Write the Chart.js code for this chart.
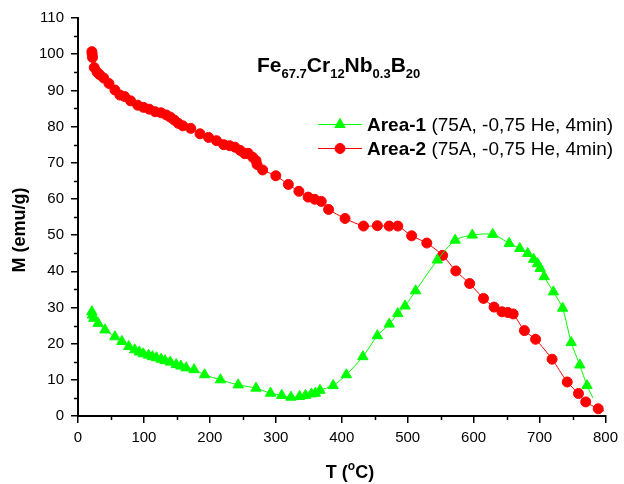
<!DOCTYPE html>
<html>
<head>
<meta charset="utf-8">
<script src="https://cdn.jsdelivr.net/npm/chart.js@4.4.1/dist/chart.umd.min.js"></script>
<style>
  html, body { margin: 0; padding: 0; background: #fff; }
  #c { display: block; }
</style>
</head>
<body>
<canvas id="c" width="624" height="484"></canvas>
<script>
// Area-1: temperature (°C) and magnetisation (emu/g)
const T1 = [21, 22, 24, 30.5, 41, 56, 66.5, 77, 86, 93, 99, 107, 113, 119, 126, 132, 140, 149, 156, 164,
            176, 192, 216, 243, 270, 292, 309, 323, 336, 345, 354, 360, 367, 387, 407, 432, 454, 472, 485, 496,
            512, 545, 572, 598, 629, 654, 670, 682, 691, 697, 701, 707, 721, 735, 748, 761, 772, 781];
const M1 = [28.8, 27.9, 27.0, 25.6, 23.8, 21.9, 20.6, 19.2, 18.3, 17.7, 17.2, 16.8, 16.4, 16.1, 15.7, 15.3, 14.9, 14.2, 13.8, 13.3,
            12.8, 11.4, 10.0, 8.6, 7.7, 6.3, 5.7, 5.2, 5.4, 5.7, 6.1, 6.3, 7.1, 8.4, 11.4, 16.4, 22.2, 25.4, 28.3, 30.4,
            34.6, 43.1, 48.6, 50.0, 50.2, 47.7, 46.3, 44.9, 43.3, 42.1, 40.8, 38.5, 34.3, 29.8, 20.3, 14.1, 8.4, 5.0];

// Area-2: temperature (°C) and magnetisation (emu/g)
const T2 = [21, 21.5, 22, 24.6, 29, 33, 39, 47, 56, 63.5, 70.7, 79.7, 90.5, 99.5, 108, 117, 126, 134, 140, 146,
            152, 159, 171, 185, 198, 210, 221, 230, 238, 246, 253, 258, 265, 270, 271.5, 280, 300, 319, 335, 349,
            359, 369, 380, 405, 433, 454, 472, 485, 506, 529, 553, 573, 594, 615, 631, 643, 652, 660, 677, 694,
            719, 742, 759, 770, 789, 798];
const M2 = [100.7, 100.0, 99.1, 96.3, 95.0, 94.3, 93.4, 91.9, 90.1, 88.7, 88.3, 87.1, 85.9, 85.3, 84.8, 84.1, 83.8, 83.2, 82.6, 81.8,
            80.9, 80.2, 79.5, 78.0, 77.0, 76.1, 75.0, 74.7, 74.3, 73.4, 72.5, 72.6, 71.5, 70.6, 69.5, 68.0, 66.4, 64.0, 62.1, 60.5,
            59.9, 59.3, 57.1, 54.6, 52.5, 52.6, 52.5, 52.5, 49.8, 47.8, 44.4, 40.1, 36.6, 32.5, 30.1, 28.8, 28.6, 28.2, 23.6, 21.2,
            15.7, 9.4, 6.2, 3.9, 2.0, 1.4];

const xTicks = [0, 100, 200, 300, 400, 500, 600, 700, 800];
const yTicks = [0, 10, 20, 30, 40, 50, 60, 70, 80, 90, 100, 110];
const xMinor = [50, 150, 250, 350, 450, 550, 650, 750];
const yMinor = [5, 15, 25, 35, 45, 55, 65, 75, 85, 95, 105];

const seriesNames = ['Area-1', 'Area-2'];
const seriesNotes = [' (75A, -0,75 He, 4min)', ' (75A, -0,75 He, 4min)'];
const titleParts = [['Fe', false], ['67.7', true], ['Cr', false], ['12', true], ['Nb', false], ['0.3', true], ['B', false], ['20', true]];

const FONT = '"Liberation Sans", Arial, Helvetica, sans-serif';
const GREEN = '#00ff00';
const RED = '#ff0000';

const pts = (xs, ys) => xs.map((x, i) => ({ x: x, y: ys[i] }));
// the final sample of each run carries the curve but no marker
const markerRadius = r => c => (c.dataIndex === c.dataset.data.length - 1 ? 0 : r);

const decor = {
  id: 'decor',
  afterDraw(chart) {
    const ctx = chart.ctx;
    const xs = chart.scales.x, ys = chart.scales.y;
    const area = chart.chartArea;
    ctx.save();

    // minor ticks
    ctx.strokeStyle = '#000';
    ctx.lineWidth = 1.5;
    ctx.beginPath();
    xMinor.forEach(v => {
      const px = Math.round(xs.getPixelForValue(v)) + 0.5;
      ctx.moveTo(px, area.bottom);
      ctx.lineTo(px, area.bottom + 4);
    });
    yMinor.forEach(v => {
      const py = Math.round(ys.getPixelForValue(v)) + 0.5;
      ctx.moveTo(area.left, py);
      ctx.lineTo(area.left - 4, py);
    });
    ctx.stroke();

    // compound formula
    ctx.fillStyle = '#000';
    ctx.textBaseline = 'alphabetic';
    ctx.textAlign = 'left';
    let tx = 257;
    const tBase = 72;
    titleParts.forEach(([t, sub]) => {
      ctx.font = sub ? 'bold 13px ' + FONT : 'bold 21px ' + FONT;
      ctx.fillText(t, tx, sub ? tBase + 6 : tBase);
      tx += ctx.measureText(t).width;
    });

    // legend
    const rows = [124.5, 148.5];
    const colors = [GREEN, RED];
    const styles = ['triangle', 'circle'];
    rows.forEach((ry, i) => {
      ctx.strokeStyle = colors[i];
      ctx.lineWidth = 1;
      ctx.beginPath();
      ctx.moveTo(318, ry);
      ctx.lineTo(362, ry);
      ctx.stroke();
      ctx.fillStyle = colors[i];
      ctx.strokeStyle = colors[i];
      Chart.helpers.drawPoint(ctx, { pointStyle: styles[i], radius: i === 0 ? 6 : 5, rotation: 0, borderWidth: 1 }, 340, ry);
      ctx.fillStyle = '#000';
      ctx.textBaseline = 'middle';
      ctx.font = 'bold 19px ' + FONT;
      ctx.fillText(seriesNames[i], 367, ry + 1);
      const w = ctx.measureText(seriesNames[i]).width;
      ctx.font = '19px ' + FONT;
      ctx.fillText(seriesNotes[i], 367 + w, ry + 1);
    });

    // axis titles
    ctx.fillStyle = '#000';
    ctx.textBaseline = 'middle';
    ctx.textAlign = 'center';
    ctx.save();
    ctx.translate(20, 230);
    ctx.rotate(-Math.PI / 2);
    ctx.font = 'bold 18px ' + FONT;
    ctx.fillText('M (emu/g)', 0, 0);
    ctx.restore();

    ctx.textAlign = 'left';
    ctx.textBaseline = 'alphabetic';
    const base = 478;
    const a = 'T (', c = 'C)';
    ctx.font = 'bold 18px ' + FONT;
    const wa = ctx.measureText(a).width, wc = ctx.measureText(c).width;
    ctx.font = 'bold 12px ' + FONT;
    const wo = ctx.measureText('o').width;
    const x0 = 350 - (wa + wo + wc) / 2;
    ctx.font = 'bold 18px ' + FONT;
    ctx.fillText(a, x0, base);
    ctx.font = 'bold 12px ' + FONT;
    ctx.fillText('o', x0 + wa, base - 8);
    ctx.font = 'bold 18px ' + FONT;
    ctx.fillText(c, x0 + wa + wo, base);

    ctx.restore();
  }
};

new Chart(document.getElementById('c'), {
  type: 'line',
  data: {
    datasets: [
      {
        label: seriesNames[0],
        data: pts(T1, M1),
        borderColor: GREEN,
        backgroundColor: GREEN,
        pointBackgroundColor: GREEN,
        pointBorderColor: GREEN,
        pointStyle: 'triangle',
        pointRadius: markerRadius(6),
        pointBorderWidth: 1,
        borderWidth: 1,
        tension: 0.25,
        fill: false
      },
      {
        label: seriesNames[1],
        data: pts(T2, M2),
        borderColor: RED,
        backgroundColor: RED,
        pointBackgroundColor: RED,
        pointBorderColor: RED,
        pointStyle: 'circle',
        pointRadius: markerRadius(5),
        pointBorderWidth: 1,
        borderWidth: 1,
        tension: 0.25,
        fill: false
      }
    ]
  },
  options: {
    responsive: false,
    animation: false,
    events: [],
    layout: { padding: { top: 18, right: 13, left: 0, bottom: 0 } },
    plugins: { legend: { display: false }, tooltip: { enabled: false }, title: { display: false } },
    scales: {
      x: {
        type: 'linear',
        min: 0,
        max: 800,
        afterBuildTicks: s => { s.ticks = xTicks.map(v => ({ value: v })); },
        afterFit: s => { s.height = 68; },
        grid: { drawOnChartArea: false, drawTicks: true, tickLength: 7, color: '#000', lineWidth: 1.5 },
        border: { display: true, color: '#000', width: 2 },
        ticks: { color: '#000', font: { family: FONT, size: 15 }, padding: 6, maxRotation: 0, autoSkip: false }
      },
      y: {
        type: 'linear',
        min: 0,
        max: 110,
        afterBuildTicks: s => { s.ticks = yTicks.map(v => ({ value: v })); },
        afterFit: s => { s.width = 78; },
        grid: { drawOnChartArea: false, drawTicks: true, tickLength: 7, color: '#000', lineWidth: 1.5 },
        border: { display: true, color: '#000', width: 2 },
        ticks: { color: '#000', font: { family: FONT, size: 15 }, padding: 7, autoSkip: false }
      }
    }
  },
  plugins: [decor]
});
</script>
</body>
</html>
